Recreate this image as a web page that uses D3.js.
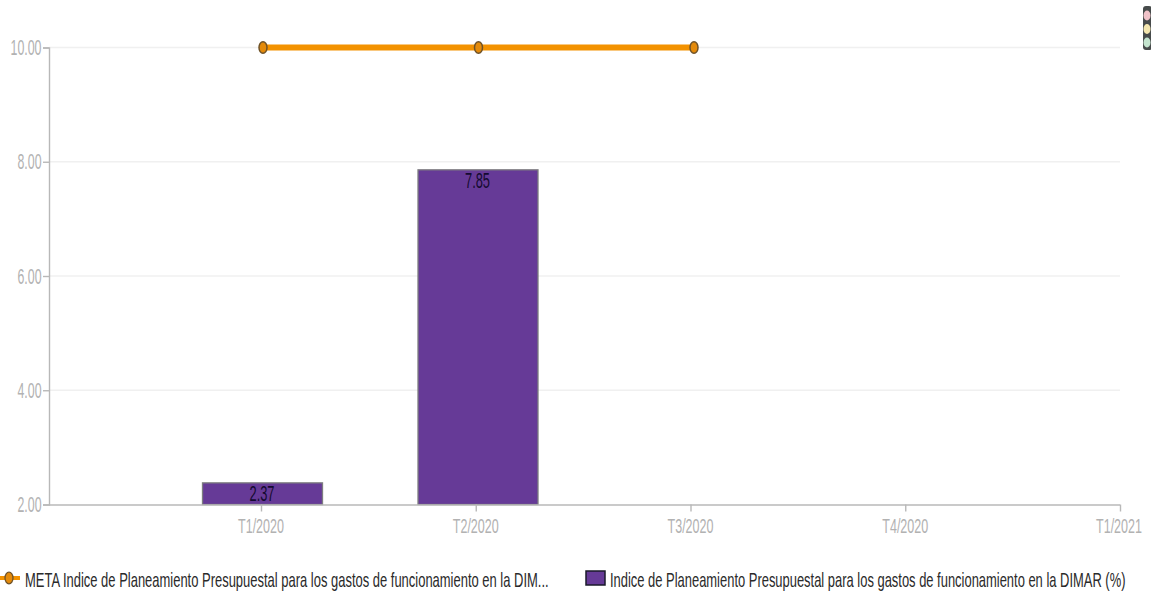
<!DOCTYPE html>
<html><head><meta charset="utf-8">
<script src="https://cdn.jsdelivr.net/npm/d3@7/dist/d3.min.js"></script>
<style>html,body{margin:0;padding:0;background:#fff}svg{display:block}text{font-family:"Liberation Sans",Arial,sans-serif}</style>
</head><body><svg id="c" width="1151" height="592"></svg>
<script>
const categories = ["T1/2020","T2/2020","T3/2020","T4/2020","T1/2021"];
const barValues = [2.37,7.85];
const barLabels = ["2.37","7.85"];
const metaValues = [10,10,10];
const yTicks = [2,4,6,8,10];
const legendMeta = "META Indice de Planeamiento Presupuestal para los gastos de funcionamiento en la DIM...";
const legendBar = "Indice de Planeamiento Presupuestal para los gastos de funcionamiento en la DIMAR (%)";

const svg = d3.select("#c");
const x = d3.scaleLinear().domain([0,4]).range([261,1120]);
const xm = d3.scaleLinear().domain([0,2]).range([263,694]);
const y = d3.scaleLinear().domain([2,10]).range([504.5,47.5]);
const barW = 120, axisCol = "#b8b8b8", tickCol = "#b2b2b2";

// condensed text: natural glyphs squeezed horizontally to a target width
function squeezed(g, str, px, py, w, anchor, size, fill){
  const t = g.append("text").attr("text-anchor",anchor).attr("font-size",size).attr("fill",fill).text(str);
  const k = w / t.node().getComputedTextLength();
  t.attr("transform",`translate(${px},${py}) scale(${k},1)`);
  return t;
}

svg.append("g").selectAll("line").data(yTicks.filter(d=>d>2)).join("line")
  .attr("x1",49).attr("x2",1120).attr("y1",d=>y(d)).attr("y2",d=>y(d))
  .attr("stroke","#f0f0f0").attr("stroke-width",1.5);

svg.append("g").selectAll("rect").data(barValues).join("rect")
  .attr("x",(d,i)=>xm(i)-barW/2-0.5).attr("width",barW)
  .attr("y",d=>y(d)-0.5).attr("height",d=>y(2)-y(d)+0.5)
  .attr("fill","#663a97").attr("stroke","#7d7d80").attr("stroke-width",1.3);

const yg = svg.append("g").attr("transform","translate(49,0)")
  .call(d3.axisLeft(y).tickValues(yTicks).tickSize(6).tickFormat(()=>""));
const xg = svg.append("g").attr("transform","translate(0,504.5)")
  .call(d3.axisBottom(x).tickValues(d3.range(categories.length)).tickSize(7).tickSizeOuter(0).tickFormat(()=>""));
xg.select("path").attr("d","M49,0.5H1120");
[yg,xg].forEach(g=>g.selectAll("path,line").attr("stroke",axisCol).attr("stroke-width",1.4));

const yLab = svg.append("g");
yTicks.forEach(d=>squeezed(yLab,d3.format(".2f")(d),41.5,y(d)+7.5,d>=10?31:24,"end",21.5,tickCol));
const xLab = svg.append("g");
categories.forEach((c,i)=>squeezed(xLab,c,x(i)-(i===4?1:0),532.5,46,"middle",20.5,tickCol));

const vals = svg.append("g");
barValues.forEach((d,i)=>squeezed(vals,barLabels[i],xm(i)-1,i===0?501:y(d)+18,25,"middle",21.5,"#140a30"));

const line = d3.line().x((d,i)=>xm(i)).y(d=>y(d));
svg.append("path").datum(metaValues).attr("d",line).attr("fill","none")
  .attr("stroke","#f39200").attr("stroke-width",6);
svg.append("g").selectAll("ellipse").data(metaValues).join("ellipse")
  .attr("cx",(d,i)=>xm(i)).attr("cy",d=>y(d)).attr("rx",4).attr("ry",5.8)
  .attr("fill","#e48a0a").attr("stroke","#6f5228").attr("stroke-width",1.5);

const lg = svg.append("g");
lg.append("line").attr("x1",0).attr("x2",20).attr("y1",578).attr("y2",578).attr("stroke","#f39200").attr("stroke-width",4);
lg.append("ellipse").attr("cx",9).attr("cy",578).attr("rx",4).attr("ry",5.8).attr("fill","#e48a0a").attr("stroke","#6f5228").attr("stroke-width",1.3);
squeezed(lg,legendMeta,25,586.5,524,"start",20,"#2a2a2a");
lg.append("rect").attr("x",586).attr("y",571).attr("width",19).attr("height",14).attr("fill","#663a97").attr("stroke","#1a1a2a").attr("stroke-width",1.5);
squeezed(lg,legendBar,610,586.5,516,"start",20,"#2a2a2a");

const icon = svg.append("g");
icon.append("rect").attr("x",1143).attr("y",6).attr("width",9).attr("height",44).attr("rx",3).attr("fill","#474b4b");
const iconColors = ["#f0c2c8","#f4e6ae","#c4e4ce"];
icon.selectAll("ellipse").data(iconColors).join("ellipse")
  .attr("cx",1147).attr("cy",(d,i)=>15.5+i*13.5).attr("rx",3.5).attr("ry",5).attr("fill",d=>d);
</script></body></html>
